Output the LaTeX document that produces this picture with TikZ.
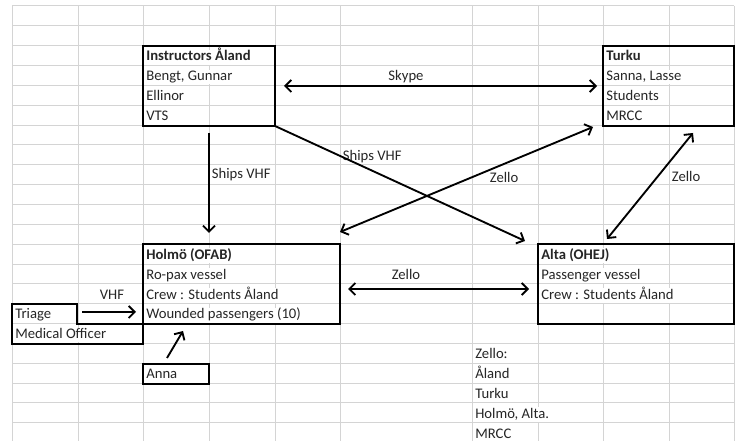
\documentclass[tikz,border=0pt]{standalone}
\usepackage{fontspec}
\setmainfont{Carlito}
\usetikzlibrary{arrows.meta,calc}
\definecolor{gridgray}{HTML}{D4D4D4}
\definecolor{textcol}{HTML}{262626}
\begin{document}
\begin{tikzpicture}[x=0.75pt,y=-0.75pt,
  gridline/.style={draw=gridgray,line width=0.75pt},
  cell/.style={anchor=west,inner xsep=0.8pt,inner ysep=0pt,text height=8.3pt,text depth=2.7pt,fill=white,text=textcol,font=\fontsize{11}{13}\selectfont,yshift=-0.8pt},
  hdr/.style={cell,font=\fontsize{11}{13}\selectfont\bfseries},
  lbl/.style={inner sep=0.5pt,text=textcol,font=\fontsize{11}{13}\selectfont},
  box/.style={draw=black,line width=1.3pt,inner sep=0pt,outer sep=0pt,rectangle},
  link/.style={draw=black,line width=1.4pt},
  onearrow/.style={link,-{Straight Barb[length=4.5pt,width=9pt]}},
  twoarrow/.style={link,{Straight Barb[length=4.5pt,width=9pt]}-{Straight Barb[length=4.5pt,width=9pt]}}
]
\useasboundingbox (0,0) rectangle (739,441);
\fill[white] (0,0) rectangle (739,441);
% spreadsheet grid
\foreach \x in {12,78,143,209,275,340,472,538,603,669,734}
  \draw[gridline] (\x,6) -- (\x,441);
\foreach \k in {0,...,21}
  \draw[gridline] (12,{6+19.85*\k}) -- (734,{6+19.85*\k});

% Instructors
\node[hdr]  (i1) at (145,56.2) {Instructors Åland};
\node[cell] (i2) at (145,76)   {Bengt, Gunnar};
\node[cell] (i3) at (145,96)   {Ellinor};
\node[cell] (i4) at (145,115.8) {VTS};
% Turku
\node[hdr]  (t1) at (605,56.2) {Turku};
\node[cell] (t2) at (605,76)   {Sanna, Lasse};
\node[cell] (t3) at (605,96)   {Students};
\node[cell] (t4) at (605,115.8) {MRCC};
% Holmo
\node[hdr]  (h1) at (145,254.7) {Holmö (OFAB)};
\node[cell] (h2) at (145,274.5) {Ro-pax vessel};
\node[cell] (h3) at (145,294.4) {Crew : Students Åland};
\node[cell] (h4) at (145,314.2) {Wounded passengers (10)};
% Alta
\node[hdr]  (a1) at (540,254.7) {Alta (OHEJ)};
\node[cell] (a2) at (540,274.5) {Passenger vessel};
\node[cell] (a3) at (540,294.4) {Crew : Students Åland};
% Triage
\node[cell] (tri) at (14,314.2) {Triage};
\node[cell] (med) at (14,334.1) {Medical Officer};
% Anna
\node[cell] (an) at (145,373.8) {Anna};
% Zello list
\node[cell] (z1) at (474,354)   {Zello:};
\node[cell] (z2) at (474,373.8) {Åland};
\node[cell] (z3) at (474,393.6) {Turku};
\node[cell] (z4) at (474,413.5) {Holmö, Alta.};
\node[cell] (z5) at (474,433.3) {MRCC};

% boxes
\node[box,minimum width=99pt,minimum height=60pt] (instr) at (209,86) {};
\node[box,minimum width=98.25pt,minimum height=60pt] (turku) at (668.5,86) {};
\node[box,minimum width=147.75pt,minimum height=60pt] (holmo) at (241.5,284) {};
\node[box,minimum width=147pt,minimum height=60pt] (alta) at (636,284) {};
\node[box,minimum width=49.5pt,minimum height=15pt] (annabox) at (176,374) {};
\draw[line width=1.3pt] (12,304) -- (77,304) -- (77,324) -- (143,324) -- (143,344) -- (12,344) -- cycle;
\coordinate (trib) at (77,313);

% labels
\node[lbl] (lskype) at (406,77) {Skype};
\node[lbl,anchor=west] (lvhf1) at (211,175) {Ships VHF};
\node[lbl,anchor=west] (lvhf2) at (342,157) {Ships VHF};
\node[lbl,anchor=west] (lz1) at (489,177) {Zello};
\node[lbl,anchor=west] (lz2) at (671,176) {Zello};
\node[lbl] (lz3) at (406,274) {Zello};
\node[lbl] (lvhf) at (112,295) {VHF};

% connectors
\draw[twoarrow] ($(instr.east)+(9,0)$) -- ($(turku.west)+(-6,0)$);
\draw[onearrow] ($(instr.south)+(0,7)$) -- ($(instr.south |- holmo.north)+(0,-11)$);
\draw[onearrow] (instr.south east) -- ($(alta.north west)+(-13,-3)$);
\draw[twoarrow] ($(holmo.north east)+(0,-12)$) -- ($(turku.south west)+(-10,1)$);
\draw[twoarrow] ($(alta.north)+(-29,-5)$) -- ($(turku.south)+(24.5,7)$);
\draw[twoarrow] ($(holmo.east)+(8,5)$) -- ($(alta.west)+(-9,5)$);
\draw[onearrow] ($(trib)+(5,-1)$) -- ($(holmo.south west)+(-7,-12)$);
\draw[onearrow] ($(annabox.north)+(-9,-6)$) -- ($(holmo.south)+(-58.5,7)$);
\end{tikzpicture}
\end{document}
